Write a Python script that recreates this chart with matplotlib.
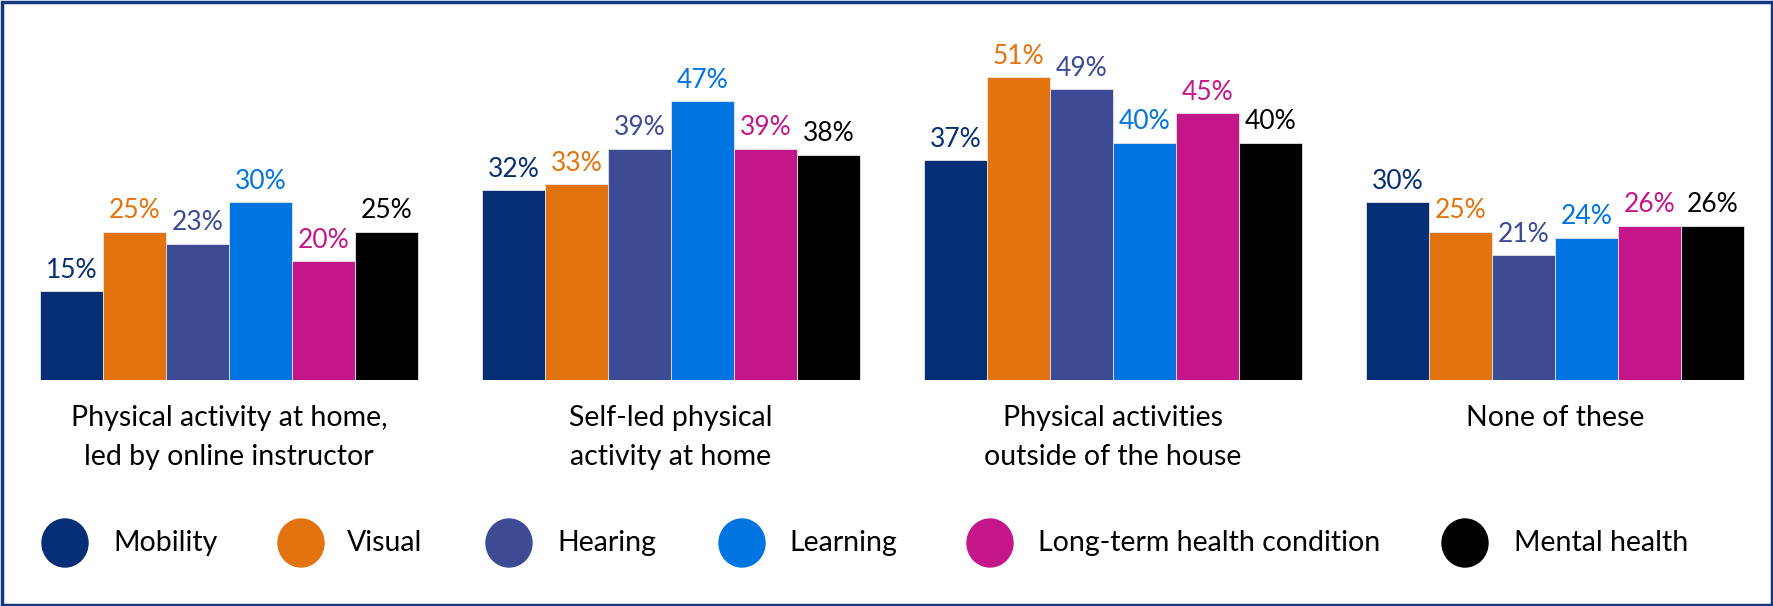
import matplotlib
matplotlib.use("Agg")
import matplotlib.pyplot as plt
import numpy as np
from matplotlib.patches import Ellipse, Rectangle

categories = ["Physical activity at home,\nled by online instructor",
              "Self-led physical\nactivity at home",
              "Physical activities\noutside of the house",
              "None of these"]
series_names = ["Mobility", "Visual", "Hearing", "Learning",
                "Long-term health condition", "Mental health"]
mobility = [15, 32, 37, 30]
visual = [25, 33, 51, 25]
hearing = [23, 39, 49, 21]
learning = [30, 47, 40, 24]
long_term = [20, 39, 45, 26]
mental = [25, 38, 40, 26]
colors = ["#052E74", "#E2730F", "#3D4A94", "#0074E0", "#C4168A", "#000000"]

series = [mobility, visual, hearing, learning, long_term, mental]

plt.rcParams['font.family'] = ['Lato', 'DejaVu Sans']

W, H = 1773, 606
fig = plt.figure(figsize=(W / 100, H / 100), dpi=100)

# axes placement in pixels
ax_left, ax_right = 30, 1754
ax_top, ax_bottom = 24, 380
ax = fig.add_axes([ax_left / W, (H - ax_bottom) / H,
                   (ax_right - ax_left) / W, (ax_bottom - ax_top) / H])

x = np.arange(len(categories))
bw = 0.1425
for i, (vals, c) in enumerate(zip(series, colors)):
    pos = x + (i - 2.5) * bw
    bars = ax.bar(pos, vals, width=bw, color=c, edgecolor="#e6e6e6", linewidth=0.6)
    for b, v in zip(bars, vals):
        ax.annotate(f"{v}%", (b.get_x() + b.get_width() / 2, v),
                    xytext=(0, 6), textcoords="offset points",
                    ha="center", va="bottom", color=c, fontsize=19)

ax.set_xlim(-0.45, 3.45)
ax.set_ylim(0, 60)
ax.axis("off")

for xi, cat in zip(x, categories):
    ax.annotate(cat, (xi, 0), xytext=(0, -18), textcoords="offset points",
                ha="center", va="top", fontsize=20.5, color="#000000",
                linespacing=1.62)

# legend
ell_x = [65, 301, 509, 742, 990, 1465]
txt_x = [113, 347, 557, 789, 1038, 1514]
ly = 543
for ex, tx, name, c in zip(ell_x, txt_x, series_names, colors):
    fig.add_artist(Ellipse((ex / W, (H - ly) / H), 46 / W, 48 / H,
                           transform=fig.transFigure, color=c))
    fig.text(tx / W, (H - ly) / H, name, ha="left", va="center",
             fontsize=20.5, color="#000000")

fig.add_artist(Rectangle((1.5 / W, 1.5 / H), (W - 3) / W, (H - 3) / H,
                         transform=fig.transFigure, fill=False,
                         edgecolor="#14387F", linewidth=2.5))

fig.savefig("out.png", dpi=100)
